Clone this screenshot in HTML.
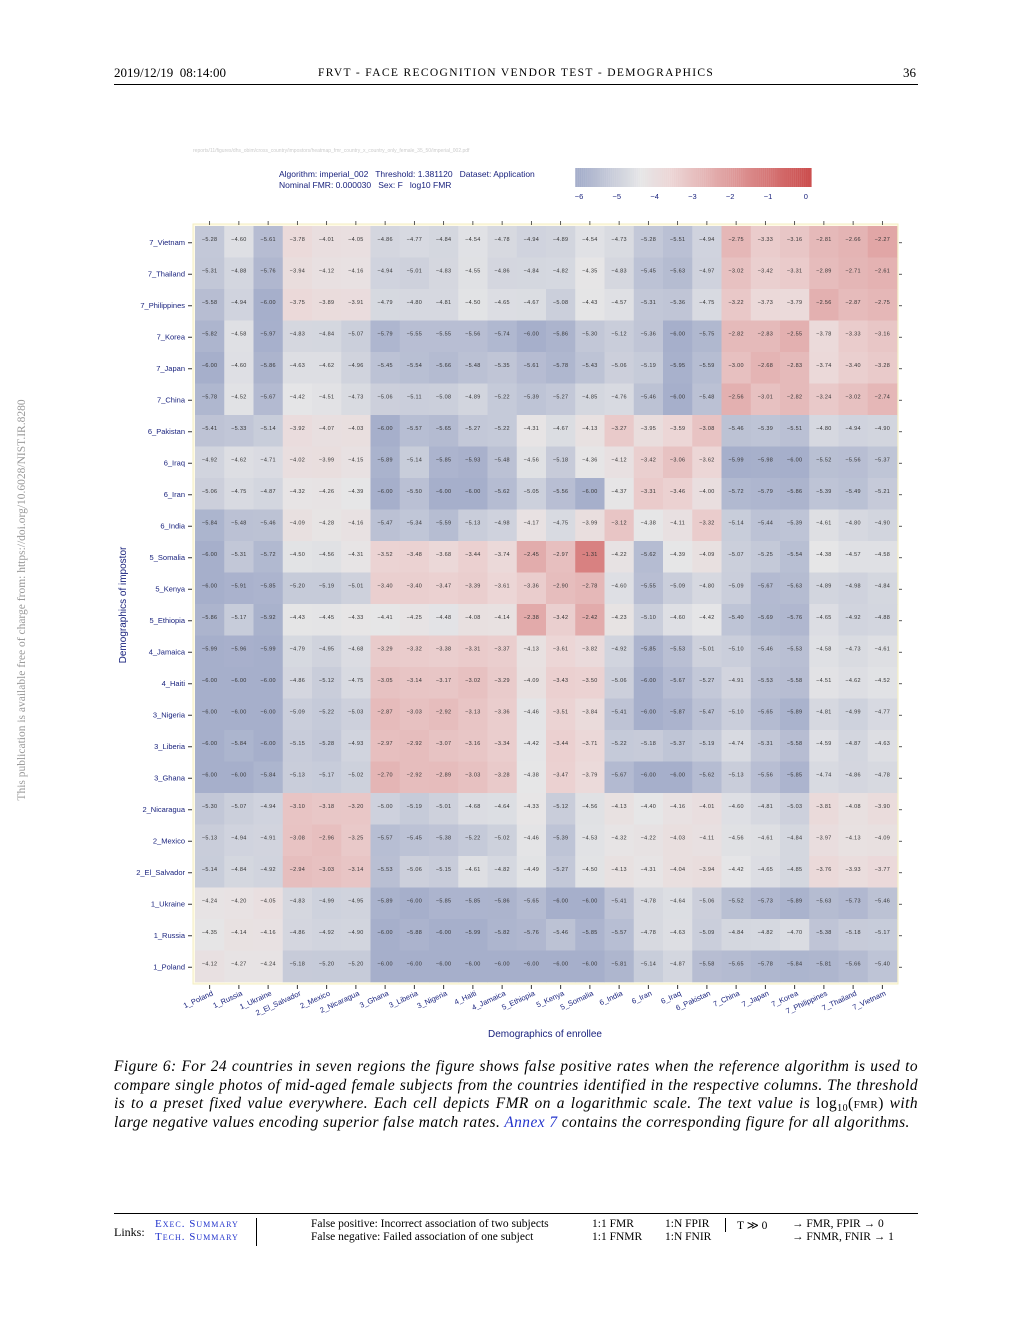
<!DOCTYPE html>
<html><head><meta charset="utf-8"><style>
body{margin:0;background:#fff;width:1020px;height:1320px;overflow:hidden;position:relative;font-family:"Liberation Serif",serif}
.abs{position:absolute}
</style></head><body>
<div class="abs" style="left:114px;top:65px;font-size:13px">2019/12/19&nbsp; 08:14:00</div>
<div class="abs" style="left:318px;top:67px;font-size:11.5px;letter-spacing:1.35px;white-space:nowrap">FRVT - FACE RECOGNITION VENDOR TEST - DEMOGRAPHICS</div>
<div class="abs" style="left:903px;top:65px;font-size:13px">36</div>
<div class="abs" style="left:114px;top:84px;width:804px;height:1px;background:#000"></div>
<div class="abs" style="left:22px;top:600px;transform:translate(-50%,-50%) rotate(-90deg);white-space:nowrap;font-size:11.5px;color:#999">This publication is available free of charge from: https://doi.org/10.6028/NIST.IR.8280</div>

<svg class="abs" style="left:0;top:0" width="1020" height="1100" id="chart" font-family="Liberation Sans, sans-serif">
<text x="193" y="152" font-size="5" fill="#ccc">reports/11/figures/dhs_obim/cross_country/impostors/heatmap_fmr_country_x_country_only_female_35_50/imperial_002.pdf</text>
<text x="279" y="177" font-size="8.5" fill="#1a237e" style="white-space:pre">Algorithm: imperial_002   Threshold: 1.381120   Dataset: Application</text>
<text x="279" y="188" font-size="8.5" fill="#1a237e" style="white-space:pre">Nominal FMR: 0.000030   Sex: F   log10 FMR</text>
<g id="cbar"></g>
<rect x="193" y="224" width="705" height="760" fill="#fffbe6" stroke="#f3eec0"/>
<g id="cells"></g>
<g id="axes"></g>
<text x="545" y="1037" font-size="10" fill="#1a237e" text-anchor="middle">Demographics of enrollee</text>
<text transform="translate(126,605) rotate(-90)" font-size="10" fill="#1a237e" text-anchor="middle">Demographics of impostor</text>
</svg>

<div class="abs" style="left:114px;top:1058px;width:804px;font-size:15.4px;letter-spacing:0.45px;font-style:italic;line-height:18.5px;text-align:justify">Figure 6: For 24 countries in seven regions the figure shows false positive rates when the reference algorithm is used to compare single photos of mid-aged female subjects from the countries identified in the respective columns. The threshold is to a preset fixed value everywhere. Each cell depicts FMR on a logarithmic scale. The text value is <span style="font-style:normal">log<sub style="font-size:10px;line-height:0;vertical-align:-3px">10</sub>(<span style="font-variant:small-caps">fmr</span>)</span> with large negative values encoding superior false match rates. <span style="color:#2233cc">Annex 7</span> contains the corresponding figure for all algorithms.</div>

<div class="abs" style="left:114px;top:1213px;width:804px;height:1px;background:#000"></div>
<div class="abs" style="left:114px;top:1225px;font-size:12px">Links:</div>
<div class="abs" style="left:155px;top:1218px;font-size:11px;color:#2233cc;font-variant:small-caps;letter-spacing:1px">Exec. Summary</div>
<div class="abs" style="left:155px;top:1231px;font-size:11px;color:#2233cc;font-variant:small-caps;letter-spacing:1px">Tech. Summary</div>
<div class="abs" style="left:256px;top:1218px;width:1px;height:28px;background:#000"></div>
<div class="abs" style="left:311px;top:1218px;font-size:11.5px;line-height:13px">False positive: Incorrect association of two subjects<br>False negative: Failed association of one subject</div>
<div class="abs" style="left:592px;top:1218px;font-size:11.5px;line-height:13px">1:1 FMR<br>1:1 FNMR</div>
<div class="abs" style="left:665px;top:1218px;font-size:11.5px;line-height:13px">1:N FPIR<br>1:N FNIR</div>
<div class="abs" style="left:725px;top:1218px;width:1px;height:14px;background:#000"></div>
<div class="abs" style="left:737px;top:1218px;font-size:11.5px">T ≫ 0</div>
<div class="abs" style="left:792px;top:1218px;font-size:11.5px;line-height:13px">→ FMR, FPIR → 0<br>→ FNMR, FNIR → 1</div>

<script>
const cols = ["1_Poland","1_Russia","1_Ukraine","2_El_Salvador","2_Mexico","2_Nicaragua","3_Ghana","3_Liberia","3_Nigeria","4_Haiti","4_Jamaica","5_Ethiopia","5_Kenya","5_Somalia","6_India","6_Iran","6_Iraq","6_Pakistan","7_China","7_Japan","7_Korea","7_Philippines","7_Thailand","7_Vietnam"];
const rows = ["7_Vietnam","7_Thailand","7_Philippines","7_Korea","7_Japan","7_China","6_Pakistan","6_Iraq","6_Iran","6_India","5_Somalia","5_Kenya","5_Ethiopia","4_Jamaica","4_Haiti","3_Nigeria","3_Liberia","3_Ghana","2_Nicaragua","2_Mexico","2_El_Salvador","1_Ukraine","1_Russia","1_Poland"];
const values = [
[-5.28,-4.60,-5.61,-3.78,-4.01,-4.05,-4.86,-4.77,-4.84,-4.54,-4.78,-4.94,-4.89,-4.54,-4.73,-5.28,-5.51,-4.94,-2.75,-3.33,-3.16,-2.81,-2.66,-2.27],
[-5.31,-4.88,-5.76,-3.94,-4.12,-4.16,-4.94,-5.01,-4.83,-4.55,-4.86,-4.84,-4.82,-4.35,-4.83,-5.45,-5.63,-4.97,-3.02,-3.42,-3.31,-2.89,-2.71,-2.61],
[-5.58,-4.94,-6.00,-3.75,-3.89,-3.91,-4.79,-4.80,-4.81,-4.50,-4.65,-4.67,-5.08,-4.43,-4.57,-5.31,-5.36,-4.75,-3.22,-3.73,-3.79,-2.56,-2.87,-2.75],
[-5.82,-4.58,-5.97,-4.83,-4.84,-5.07,-5.79,-5.55,-5.55,-5.56,-5.74,-6.00,-5.86,-5.30,-5.12,-5.36,-6.00,-5.75,-2.82,-2.83,-2.55,-3.78,-3.33,-3.16],
[-6.00,-4.60,-5.86,-4.63,-4.62,-4.96,-5.45,-5.54,-5.66,-5.48,-5.35,-5.61,-5.78,-5.43,-5.06,-5.19,-5.95,-5.59,-3.00,-2.68,-2.83,-3.74,-3.40,-3.28],
[-5.78,-4.52,-5.67,-4.42,-4.51,-4.73,-5.06,-5.11,-5.08,-4.89,-5.22,-5.39,-5.27,-4.85,-4.76,-5.46,-6.00,-5.48,-2.56,-3.01,-2.82,-3.24,-3.02,-2.74],
[-5.41,-5.33,-5.14,-3.92,-4.07,-4.03,-6.00,-5.57,-5.65,-5.27,-5.22,-4.31,-4.67,-4.13,-3.27,-3.95,-3.59,-3.08,-5.46,-5.39,-5.51,-4.80,-4.94,-4.90],
[-4.92,-4.62,-4.71,-4.02,-3.99,-4.15,-5.89,-5.14,-5.85,-5.93,-5.48,-4.56,-5.18,-4.36,-4.12,-3.42,-3.06,-3.62,-5.99,-5.98,-6.00,-5.52,-5.56,-5.37],
[-5.06,-4.75,-4.87,-4.32,-4.26,-4.39,-6.00,-5.50,-6.00,-6.00,-5.62,-5.05,-5.56,-6.00,-4.37,-3.31,-3.46,-4.00,-5.72,-5.79,-5.86,-5.39,-5.49,-5.21],
[-5.84,-5.48,-5.46,-4.09,-4.28,-4.16,-5.47,-5.34,-5.59,-5.13,-4.98,-4.17,-4.75,-3.99,-3.12,-4.38,-4.11,-3.32,-5.14,-5.44,-5.39,-4.61,-4.80,-4.90],
[-6.00,-5.31,-5.72,-4.50,-4.56,-4.31,-3.52,-3.48,-3.68,-3.44,-3.74,-2.45,-2.97,-1.31,-4.22,-5.62,-4.39,-4.09,-5.07,-5.25,-5.54,-4.38,-4.57,-4.58],
[-6.00,-5.91,-5.85,-5.20,-5.19,-5.01,-3.40,-3.40,-3.47,-3.39,-3.61,-3.36,-2.90,-2.78,-4.60,-5.55,-5.09,-4.80,-5.09,-5.67,-5.63,-4.89,-4.98,-4.84],
[-5.86,-5.17,-5.92,-4.43,-4.45,-4.33,-4.41,-4.25,-4.48,-4.08,-4.14,-2.38,-3.42,-2.42,-4.23,-5.10,-4.60,-4.42,-5.40,-5.69,-5.76,-4.65,-4.92,-4.88],
[-5.99,-5.96,-5.99,-4.79,-4.95,-4.68,-3.29,-3.32,-3.38,-3.31,-3.37,-4.13,-3.61,-3.82,-4.92,-5.85,-5.53,-5.01,-5.10,-5.46,-5.53,-4.58,-4.73,-4.61],
[-6.00,-6.00,-6.00,-4.86,-5.12,-4.75,-3.05,-3.14,-3.17,-3.02,-3.29,-4.09,-3.43,-3.50,-5.06,-6.00,-5.67,-5.27,-4.91,-5.53,-5.58,-4.51,-4.62,-4.52],
[-6.00,-6.00,-6.00,-5.09,-5.22,-5.03,-2.87,-3.03,-2.92,-3.13,-3.36,-4.46,-3.51,-3.84,-5.41,-6.00,-5.87,-5.47,-5.10,-5.65,-5.89,-4.81,-4.99,-4.77],
[-6.00,-5.84,-6.00,-5.15,-5.28,-4.93,-2.97,-2.92,-3.07,-3.16,-3.34,-4.42,-3.44,-3.71,-5.22,-5.18,-5.37,-5.19,-4.74,-5.31,-5.58,-4.59,-4.87,-4.63],
[-6.00,-6.00,-5.84,-5.13,-5.17,-5.02,-2.70,-2.92,-2.89,-3.03,-3.28,-4.38,-3.47,-3.79,-5.67,-6.00,-6.00,-5.62,-5.13,-5.56,-5.85,-4.74,-4.86,-4.78],
[-5.30,-5.07,-4.94,-3.10,-3.18,-3.20,-5.00,-5.19,-5.01,-4.68,-4.64,-4.33,-5.12,-4.56,-4.13,-4.40,-4.16,-4.01,-4.60,-4.81,-5.03,-3.81,-4.08,-3.90],
[-5.13,-4.94,-4.91,-3.08,-2.96,-3.25,-5.57,-5.45,-5.38,-5.22,-5.02,-4.46,-5.39,-4.53,-4.32,-4.22,-4.03,-4.11,-4.56,-4.61,-4.84,-3.97,-4.13,-4.09],
[-5.14,-4.84,-4.92,-2.94,-3.03,-3.14,-5.53,-5.06,-5.15,-4.61,-4.82,-4.49,-5.27,-4.50,-4.13,-4.31,-4.04,-3.94,-4.42,-4.65,-4.85,-3.76,-3.93,-3.77],
[-4.24,-4.20,-4.05,-4.83,-4.99,-4.95,-5.89,-6.00,-5.85,-5.85,-5.86,-5.65,-6.00,-6.00,-5.41,-4.78,-4.64,-5.06,-5.52,-5.73,-5.89,-5.63,-5.73,-5.46],
[-4.35,-4.14,-4.16,-4.86,-4.92,-4.90,-6.00,-5.88,-6.00,-5.99,-5.82,-5.76,-5.46,-5.85,-5.57,-4.78,-4.63,-5.09,-4.84,-4.82,-4.70,-5.38,-5.18,-5.17],
[-4.12,-4.27,-4.24,-5.18,-5.20,-5.20,-6.00,-6.00,-6.00,-6.00,-6.00,-6.00,-6.00,-6.00,-5.81,-5.14,-4.87,-5.58,-5.65,-5.78,-5.84,-5.81,-5.66,-5.40]
];
const cbarTicks = [-6,-5,-4,-3,-2,-1,0];

const NS="http://www.w3.org/2000/svg";
const gx0=195, gx1=897, gy0=226, gy1=982;
const cw=(gx1-gx0)/cols.length, ch=(gy1-gy0)/rows.length;
const xScale=i=>gx0+i*cw, yScale=j=>gy0+j*ch;
const cbX=v=>579+(v+6)*37.8;
const stops=[[-6,[166,175,203]],[-4.4,[230,230,231]],[-3.6,[236,214,214]],[-2.2,[224,163,163]],[0,[204,80,80]]];
function color(v){
  if(v<=stops[0][0]) return `rgb(${stops[0][1]})`;
  for(let k=1;k<stops.length;k++){ if(v<=stops[k][0]){const a=stops[k-1],b=stops[k];const t=(v-a[0])/(b[0]-a[0]);
    return 'rgb('+a[1].map((c,i)=>Math.round(c+(b[1][i]-c)*t)).join(',')+')';}}
  return `rgb(${stops[stops.length-1][1]})`;
}
function mk(tag,at,parent){const e=document.createElementNS(NS,tag);for(const k in at)e.setAttribute(k,at[k]);parent.appendChild(e);return e;}
const cells=document.getElementById('cells'), axes=document.getElementById('axes'), cbar=document.getElementById('cbar');
for(let s=0;s<120;s++){const v=-6.1+s*(6.25/120);
  const r=mk('rect',{x:cbX(v),y:168,width:2.1,height:19,fill:color(v)},cbar);
  
  }
cbarTicks.forEach(t=>{const tx=mk('text',{x:cbX(t),y:199,'font-size':7.5,fill:'#1a237e','text-anchor':'middle'},cbar);tx.textContent=t===0?'0':'−'+Math.abs(t);
  
  });
rows.forEach((rn,j)=>{
  cols.forEach((cn,i)=>{const v=values[j][i];
    const r=mk('rect',{x:xScale(i),y:yScale(j),width:cw+0.3,height:ch+0.3,fill:color(v)},cells);
    
    
    const t=mk('text',{x:xScale(i)+cw/2,y:yScale(j)+ch/2-1,'font-size':5.5,'letter-spacing':0.3,fill:'#333','text-anchor':'middle'},cells);
    t.textContent='−'+Math.abs(v).toFixed(2);
    
    
  });
  const yl=mk('text',{x:185,y:yScale(j)+ch/2+3,'font-size':7.5,fill:'#1a237e','text-anchor':'end'},axes);
  yl.textContent=rn;
  
  
  mk('line',{x1:188,x2:192,y1:yScale(j)+ch/2+1,y2:yScale(j)+ch/2+1,stroke:'#333','stroke-width':1},axes);
  mk('line',{x1:899,x2:902,y1:yScale(j)+ch/2+1,y2:yScale(j)+ch/2+1,stroke:'#333','stroke-width':0.8},axes);
});
cols.forEach((cn,i)=>{const cx=xScale(i)+cw/2;
  mk('line',{x1:cx,x2:cx,y1:985,y2:989,stroke:'#333','stroke-width':1},axes);
  mk('line',{x1:cx,x2:cx,y1:221,y2:225,stroke:'#333','stroke-width':0.8},axes);
  const t=mk('text',{transform:`translate(${cx+4},${995}) rotate(-25)`,'font-size':7.5,fill:'#1a237e','text-anchor':'end'},axes);
  t.textContent=cn;
  
  
});
</script>
</body></html>
